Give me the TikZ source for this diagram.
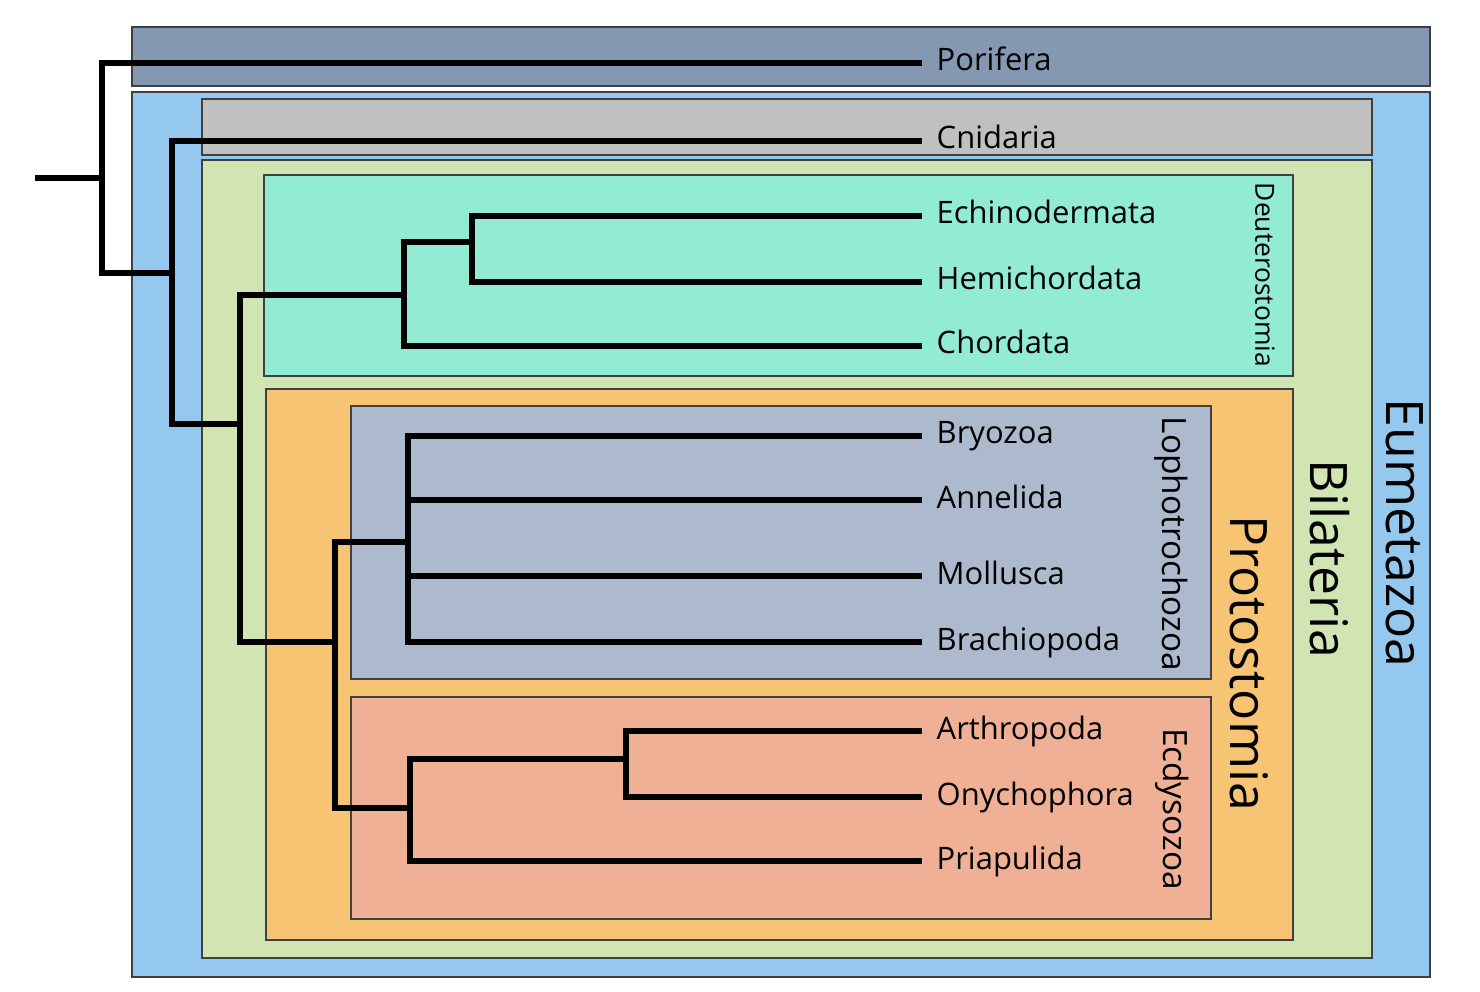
\documentclass[tikz,border=0pt]{standalone}
\usepackage{fontspec}
\setmainfont{Open Sans}
\usepackage{tikz}

\definecolor{porifera}{HTML}{8499B1}
\definecolor{eumetazoa}{HTML}{94C8EE}
\definecolor{cnidaria}{HTML}{C0C0C0}
\definecolor{bilateria}{HTML}{D1E5B3}
\definecolor{deutero}{HTML}{92EBD3}
\definecolor{proto}{HTML}{F6C473}
\definecolor{lopho}{HTML}{ADB9CC}
\definecolor{ecdyso}{HTML}{F0B095}

\begin{document}
\begin{tikzpicture}[x=0.01cm,y=-0.01cm,
  box/.style={draw=black!75,line width=0.6pt},
  branch/.style={line width=1.5pt},
  taxon/.style={anchor=west,inner xsep=0.14cm,inner ysep=0pt,text height=0.16cm,text depth=0pt,font=\fontsize{8.8}{10}\selectfont},
  bigclade/.style={rotate=-90,inner sep=0pt,font=\fontsize{14.7}{17}\selectfont},
  clade/.style={rotate=-90,inner sep=0pt,font=\fontsize{9.5}{11}\selectfont}]
\useasboundingbox (0,0) rectangle (1480,992);
%boxes
\draw[box,fill=porifera]  (132,27)  rectangle (1430,86);
\draw[box,fill=eumetazoa] (132,92)  rectangle (1430,977);
\draw[box,fill=cnidaria]  (202,99)  rectangle (1372,155);
\draw[box,fill=bilateria] (202,160) rectangle (1372,958);
\draw[box,fill=deutero]   (264,175) rectangle (1293,376);
\draw[box,fill=proto]     (266,389) rectangle (1293,940);
\draw[box,fill=lopho]     (351,406) rectangle (1211,679);
\draw[box,fill=ecdyso]    (351,697) rectangle (1211,919);
%clade names
\node[bigclade] (eumname) at (1405,533) {Eumetazoa};
\node[bigclade] (bilname) at (1330,559) {Bilateria};
\node[bigclade] (proname) at (1249,663) {Protostomia};
\node[clade,font=\fontsize{7.5}{9}\selectfont] (deuname) at (1265,275) {Deuterostomia};
\node[clade] (lopname) at (1171,544) {Lophotrochozoa};
\node[clade] (ecdname) at (1172,809) {Ecdysozoa};
%taxa
\node[taxon] (por) at (922,63)  {Porifera};
\node[taxon] (cni) at (922,141) {Cnidaria};
\node[taxon] (ech) at (922,216) {Echinodermata};
\node[taxon] (hem) at (922,282) {Hemichordata};
\node[taxon] (cho) at (922,346) {Chordata};
\node[taxon] (bry) at (922,436) {Bryozoa};
\node[taxon] (ann) at (922,500) {Annelida};
\node[taxon] (mol) at (922,576) {Mollusca};
\node[taxon] (bra) at (922,642) {Brachiopoda};
\node[taxon] (art) at (922,731) {Arthropoda};
\node[taxon] (ony) at (922,797) {Onychophora};
\node[taxon] (pri) at (922,861) {Priapulida};
%splits
\coordinate (base) at (35,178);
\coordinate (root) at (102,178);
\coordinate (eum)  at (172,273);
\coordinate (bil)  at (240,424);
\coordinate (deu)  at (404,295);
\coordinate (amb)  at (472,242);
\coordinate (pro)  at (335,642);
\coordinate (lop)  at (408,542);
\coordinate (ecd)  at (410,808);
\coordinate (pan)  at (626,759);
%tree
\draw[branch] (base) -- (root);
\draw[branch] (root) |- (por.west);
\draw[branch] (root) |- (eum);
\draw[branch] (eum) |- (cni.west);
\draw[branch] (eum) |- (bil);
\draw[branch] (bil) |- (deu);
\draw[branch] (bil) |- (pro);
\draw[branch] (deu) |- (amb);
\draw[branch] (deu) |- (cho.west);
\draw[branch] (amb) |- (ech.west);
\draw[branch] (amb) |- (hem.west);
\draw[branch] (pro) |- (lop);
\draw[branch] (pro) |- (ecd);
\draw[branch] (lop) |- (bry.west);
\draw[branch] (lop) |- (ann.west);
\draw[branch] (lop) |- (mol.west);
\draw[branch] (lop) |- (bra.west);
\draw[branch] (ecd) |- (pan);
\draw[branch] (ecd) |- (pri.west);
\draw[branch] (pan) |- (art.west);
\draw[branch] (pan) |- (ony.west);
\end{tikzpicture}
\end{document}
